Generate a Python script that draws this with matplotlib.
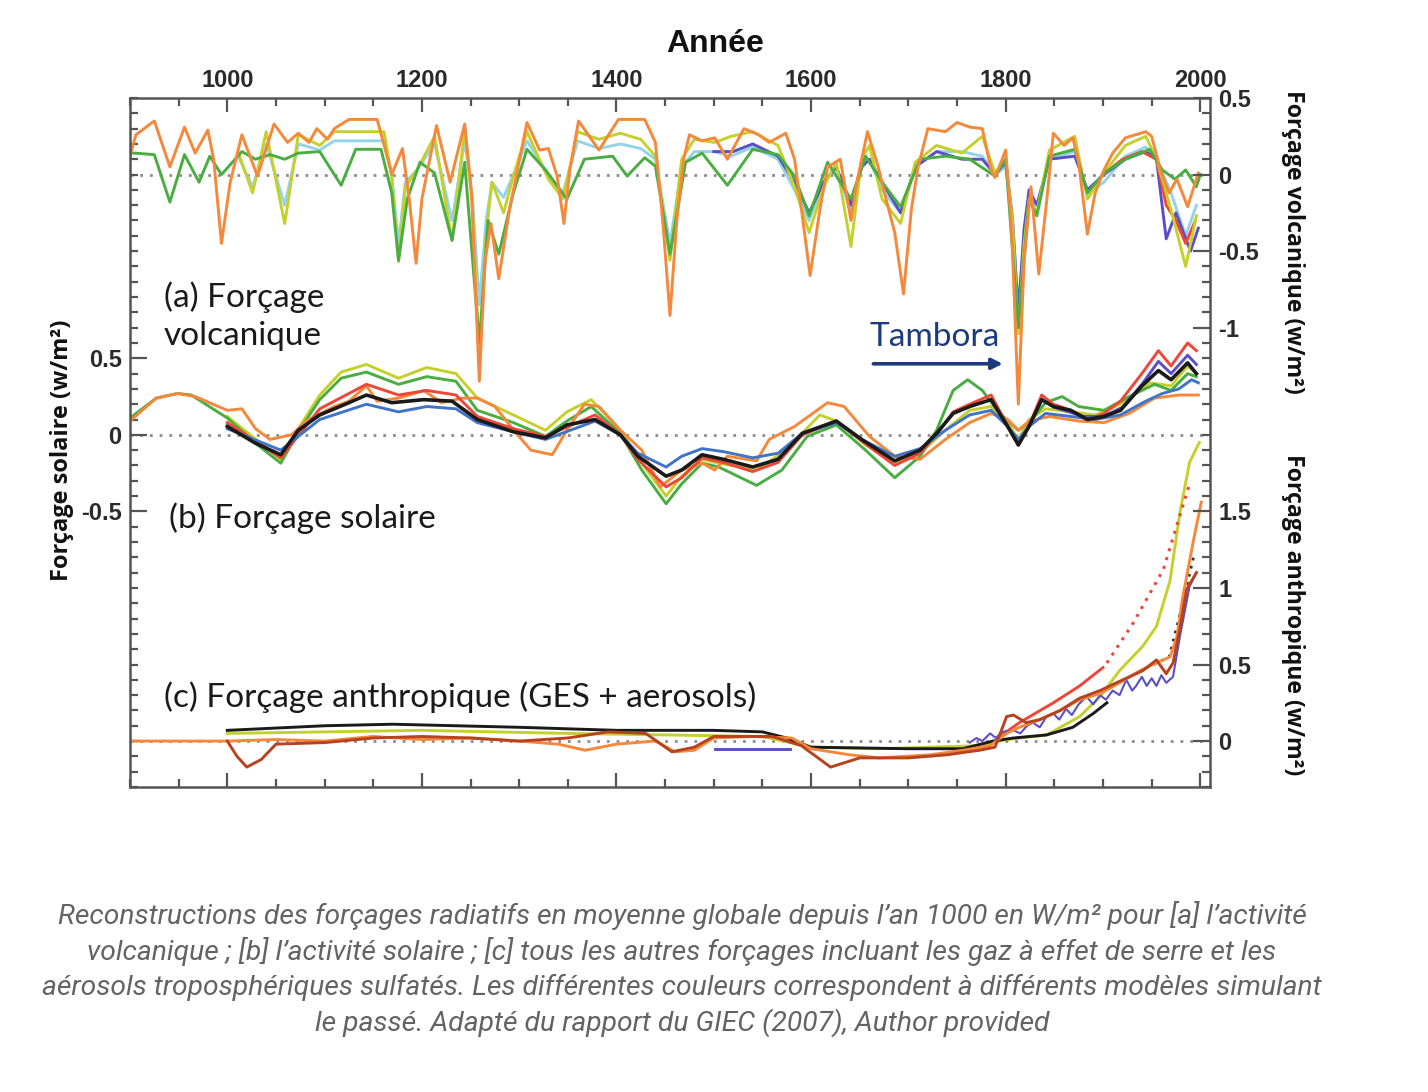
import numpy as np
import matplotlib
matplotlib.use('Agg')
import matplotlib.pyplot as plt
from matplotlib.ticker import MultipleLocator, FixedLocator
from matplotlib.font_manager import FontProperties

# ---------------- DATA (W/m2) ----------------
# (a) Volcanic forcing
V_ORANGE_YR = [900, 906, 925, 941, 956, 967, 980, 986, 994, 1003, 1015, 1031, 1048, 1062, 1073, 1084, 1092, 1103, 1110, 1125,
               1154, 1165, 1169, 1180, 1187, 1194, 1200, 1215, 1229, 1244, 1251, 1259, 1265, 1271, 1279, 1290, 1308, 1321, 1330, 1339,
               1346, 1352, 1361, 1382, 1402, 1429, 1440, 1448, 1455, 1462, 1469, 1475, 1488, 1501, 1514, 1531, 1546, 1557, 1574, 1583,
               1591, 1599, 1609, 1617, 1630, 1641, 1647, 1658, 1669, 1677, 1686, 1695, 1703, 1710, 1720, 1738, 1750, 1763, 1776, 1785,
               1789, 1800, 1806, 1813, 1819, 1826, 1834, 1843, 1849, 1860, 1869, 1875, 1884, 1892, 1901, 1910, 1923, 1944, 1950, 1959,
               1968, 1976, 1987, 1998]
V_ORANGE = [0.12, 0.26, 0.35, 0.05, 0.31, 0.14, 0.29, 0.10, -0.45, -0.05, 0.26, -0.01, 0.33, 0.21, 0.27, 0.21, 0.30, 0.23, 0.30, 0.36,
            0.36, 0.10, 0.00, 0.17, -0.16, -0.58, -0.16, 0.32, -0.05, 0.33, -0.12, -1.35, -0.56, -0.32, -0.68, -0.23, 0.34, 0.16, 0.17, -0.01,
            -0.32, 0.03, 0.35, 0.16, 0.36, 0.36, 0.21, -0.34, -0.92, -0.30, 0.10, 0.26, 0.22, 0.24, 0.10, 0.30, 0.26, 0.21, 0.27, 0.10,
            -0.27, -0.66, -0.23, 0.05, 0.10, -0.30, -0.05, 0.28, 0.05, -0.16, -0.38, -0.78, -0.23, 0.05, 0.30, 0.28, 0.34, 0.31, 0.30, 0.03,
            -0.02, 0.16, -0.34, -1.50, -0.56, -0.08, -0.65, -0.12, 0.27, 0.19, 0.24, 0.08, -0.39, -0.12, 0.03, 0.14, 0.24, 0.28, 0.25, 0.03,
            -0.12, -0.03, -0.21, 0.01]

V_YG_YR = [1011, 1026, 1040, 1059, 1073, 1095, 1110, 1161, 1169, 1176, 1183, 1195, 1213, 1231, 1244, 1252, 1259, 1266, 1272, 1284,
           1294, 1308, 1330, 1345, 1360, 1382, 1404, 1425, 1440, 1455, 1467, 1480, 1501, 1518, 1540, 1566, 1583, 1598, 1613, 1626,
           1641, 1652, 1660, 1673, 1692, 1707, 1729, 1755, 1776, 1789, 1800, 1807, 1813, 1819, 1824, 1832, 1845, 1871, 1884, 1901,
           1923, 1944, 1955, 1970, 1985, 1996]
V_YG = [0.15, -0.12, 0.28, -0.32, 0.26, 0.19, 0.28, 0.28, -0.01, -0.57, -0.08, 0.03, 0.25, -0.43, 0.30, -0.20, -1.22, -0.40, -0.05, -0.25,
        -0.01, 0.28, -0.03, -0.16, 0.28, 0.23, 0.27, 0.23, 0.12, -0.56, 0.10, 0.23, 0.21, 0.25, 0.28, 0.19, -0.08, -0.38, -0.08, 0.08,
        -0.47, 0.10, 0.19, -0.16, -0.32, 0.08, 0.19, 0.14, 0.25, 0.01, 0.10, -0.30, -1.04, -0.45, -0.16, -0.25, 0.16, 0.25, -0.16, 0.01,
        0.19, 0.25, 0.10, -0.23, -0.60, -0.27]
V_LBLUE = [0.12, -0.08, 0.20, -0.20, 0.20, 0.16, 0.22, 0.22, 0.00, -0.45, -0.05, 0.03, 0.20, -0.30, 0.22, -0.15, -0.85, -0.30, -0.05, -0.15,
           0.00, 0.22, 0.00, -0.12, 0.22, 0.17, 0.20, 0.17, 0.10, -0.45, 0.05, 0.15, 0.15, 0.12, 0.18, 0.10, -0.10, -0.30, -0.05, 0.05,
           -0.25, 0.05, 0.10, -0.10, -0.25, 0.05, 0.15, 0.15, 0.12, 0.00, 0.05, -0.25, -0.95, -0.40, -0.15, -0.20, 0.10, 0.15, -0.12, -0.05,
           0.12, 0.18, 0.10, -0.12, -0.40, -0.20]

V_GREEN_YR = [900, 905, 925, 941, 956, 971, 982, 994, 1015, 1029, 1044, 1059, 1073, 1095, 1117, 1132, 1158, 1169, 1176, 1185,
              1198, 1213, 1231, 1244, 1259, 1268, 1279, 1294, 1308, 1327, 1349, 1367, 1396, 1411, 1429, 1440, 1455, 1471, 1488, 1514,
              1540, 1566, 1583, 1598, 1617, 1641, 1656, 1673, 1692, 1712, 1738, 1763, 1789, 1800, 1813, 1824, 1832, 1845, 1871, 1884,
              1901, 1923, 1948, 1961, 1974, 1985, 1996, 2000]
V_GREEN = [0.14, 0.14, 0.13, -0.18, 0.13, -0.05, 0.12, 0.00, 0.15, 0.10, 0.13, 0.10, 0.14, 0.15, -0.07, 0.165, 0.165, -0.12, -0.56, -0.16,
           0.08, 0.01, -0.43, 0.08, -1.10, -0.30, -0.52, -0.12, 0.165, 0.03, -0.16, 0.10, 0.12, -0.01, 0.11, 0.055, -0.52, 0.08, 0.14, -0.07,
           0.165, 0.13, -0.01, -0.27, 0.08, -0.16, 0.12, -0.05, -0.21, 0.10, 0.12, 0.10, -0.01, 0.10, -1.00, -0.16, -0.27, 0.12, 0.165, -0.12,
           0.01, 0.10, 0.165, 0.03, -0.03, 0.03, -0.08, 0.00]

V_PURPLE_YR = [1500, 1520, 1540, 1566, 1583, 1598, 1613, 1626, 1641, 1652, 1660, 1673, 1692, 1707, 1729, 1755, 1776, 1789, 1800, 1807,
               1813, 1819, 1824, 1832, 1845, 1871, 1884, 1901, 1923, 1944, 1955, 1965, 1975, 1990, 1998]
V_PURPLE = [0.15, 0.15, 0.20, 0.12, -0.05, -0.25, -0.05, 0.05, -0.20, 0.05, 0.10, -0.05, -0.25, 0.05, 0.15, 0.10, 0.10, 0.00, 0.08, -0.30,
            -0.90, -0.35, -0.10, -0.20, 0.10, 0.12, -0.10, 0.00, 0.10, 0.15, 0.10, -0.42, -0.25, -0.50, -0.35]
V_RED_YR = [1900, 1920, 1940, 1955, 1965, 1975, 1985, 1995]
V_RED = [0.00, 0.10, 0.15, 0.10, -0.20, -0.30, -0.45, -0.30]

# (b) Solar forcing
S_BLACK_YR = [1000, 1029, 1055, 1073, 1095, 1125, 1143, 1169, 1202, 1231, 1257, 1294, 1327, 1349, 1378, 1404, 1422, 1451, 1467, 1488,
              1510, 1540, 1566, 1591, 1626, 1652, 1686, 1712, 1729, 1746, 1763, 1785, 1802, 1813, 1824, 1837, 1849, 1867, 1884, 1901,
              1918, 1940, 1957, 1970, 1987, 1996]
S_BLACK = [0.055, -0.055, -0.13, 0.03, 0.13, 0.21, 0.26, 0.21, 0.23, 0.22, 0.10, 0.02, -0.02, 0.065, 0.10, 0.00, -0.14, -0.27, -0.23, -0.13,
           -0.16, -0.21, -0.16, 0.01, 0.09, -0.03, -0.17, -0.10, 0.01, 0.14, 0.185, 0.23, 0.055, -0.065, 0.055, 0.23, 0.185, 0.16, 0.10, 0.12,
           0.16, 0.32, 0.42, 0.36, 0.47, 0.40]
S_GREEN_YR = [900, 927, 949, 963, 1000, 1029, 1055, 1073, 1095, 1117, 1143, 1176, 1205, 1235, 1257, 1294, 1327, 1349, 1374, 1404,
              1426, 1451, 1467, 1488, 1505, 1544, 1570, 1596, 1626, 1656, 1686, 1712, 1729, 1746, 1761, 1776, 1794, 1813, 1824, 1841,
              1858, 1875, 1901, 1927, 1953, 1970, 1987, 1996]
S_GREEN = [0.11, 0.24, 0.27, 0.26, 0.11, -0.055, -0.185, 0.02, 0.23, 0.37, 0.41, 0.33, 0.38, 0.35, 0.16, 0.08, -0.01, 0.09, 0.185, 0.01,
           -0.23, -0.45, -0.32, -0.185, -0.21, -0.33, -0.23, -0.01, 0.065, -0.10, -0.28, -0.14, 0.03, 0.29, 0.36, 0.29, 0.14, 0.03, 0.08, 0.21,
           0.25, 0.185, 0.16, 0.25, 0.33, 0.29, 0.40, 0.38]
S_YG_YR = [1000, 1055, 1073, 1095, 1117, 1143, 1176, 1205, 1235, 1257, 1294, 1327, 1349, 1374, 1404, 1426, 1451, 1467, 1488, 1505,
           1544, 1574, 1609, 1626, 1656, 1686, 1712, 1738, 1763, 1785, 1802, 1813, 1824, 1841, 1867, 1892, 1918, 1948, 1970, 1987, 1996]
S_YG = [0.12, -0.16, 0.04, 0.26, 0.41, 0.46, 0.37, 0.44, 0.40, 0.24, 0.13, 0.03, 0.15, 0.23, 0.03, -0.185, -0.40, -0.27, -0.16, -0.185,
        -0.23, -0.10, 0.13, 0.09, -0.065, -0.185, -0.12, 0.03, 0.16, 0.185, 0.08, -0.03, 0.10, 0.17, 0.15, 0.13, 0.20, 0.34, 0.32, 0.45, 0.40]
S_RED_YR = [1000, 1055, 1095, 1143, 1176, 1205, 1235, 1257, 1294, 1327, 1378, 1404, 1422, 1451, 1467, 1488, 1510, 1540, 1566, 1591,
            1626, 1652, 1686, 1712, 1729, 1746, 1763, 1785, 1802, 1813, 1824, 1837, 1849, 1867, 1884, 1901, 1918, 1940, 1957, 1970,
            1987, 1996]
S_RED = [0.08, -0.15, 0.17, 0.33, 0.26, 0.29, 0.26, 0.12, 0.04, -0.01, 0.13, 0.00, -0.16, -0.34, -0.28, -0.15, -0.18, -0.24, -0.18, 0.00,
         0.09, -0.04, -0.20, -0.12, 0.00, 0.15, 0.20, 0.26, 0.06, -0.07, 0.06, 0.26, 0.20, 0.16, 0.10, 0.14, 0.22, 0.40, 0.55, 0.45,
         0.60, 0.55]
S_BLUE_YR = [1000, 1055, 1095, 1143, 1176, 1205, 1235, 1257, 1294, 1327, 1378, 1404, 1422, 1451, 1467, 1488, 1510, 1540, 1566, 1591,
             1626, 1652, 1686, 1712, 1738, 1763, 1785, 1802, 1813, 1824, 1841, 1867, 1892, 1918, 1944, 1961, 1978, 1991, 1998]
S_BLUE = [0.04, -0.10, 0.10, 0.20, 0.15, 0.185, 0.17, 0.08, 0.02, -0.03, 0.09, 0.00, -0.12, -0.21, -0.14, -0.09, -0.11, -0.15, -0.12, 0.01,
          0.08, -0.03, -0.14, -0.09, 0.03, 0.13, 0.16, 0.055, -0.03, 0.055, 0.14, 0.12, 0.10, 0.13, 0.22, 0.27, 0.30, 0.36, 0.34]
S_ORANGE_YR = [900, 927, 949, 967, 1000, 1015, 1029, 1044, 1066, 1081, 1110, 1125, 1143, 1154, 1176, 1202, 1220, 1242, 1257, 1275,
               1297, 1312, 1334, 1349, 1367, 1382, 1404, 1426, 1445, 1467, 1488, 1501, 1514, 1544, 1557, 1583, 1617, 1634, 1660, 1686,
               1712, 1738, 1763, 1785, 1802, 1813, 1824, 1845, 1875, 1901, 1927, 1953, 1978, 1998]
S_ORANGE = [0.09, 0.24, 0.27, 0.25, 0.16, 0.17, 0.04, -0.03, 0.00, 0.09, 0.185, 0.22, 0.32, 0.22, 0.24, 0.29, 0.21, 0.24, 0.24, 0.185,
            0.01, -0.10, -0.13, 0.03, 0.20, 0.185, 0.03, -0.10, -0.34, -0.23, -0.185, -0.23, -0.14, -0.17, -0.03, 0.055, 0.21, 0.185, -0.01, -0.14,
            -0.16, -0.03, 0.08, 0.14, 0.10, 0.03, 0.09, 0.12, 0.09, 0.08, 0.14, 0.24, 0.26, 0.26]
S_PURPLE_YR = [1850, 1880, 1900, 1920, 1940, 1957, 1970, 1987, 1996]
S_PURPLE = [0.18, 0.12, 0.12, 0.18, 0.33, 0.48, 0.40, 0.52, 0.46]

# (c) Anthropogenic forcing
A_ORANGE_YR = [900, 1000, 1050, 1100, 1150, 1200, 1250, 1300, 1340, 1368, 1400, 1440, 1460, 1480, 1500, 1540, 1580, 1600, 1640, 1670,
               1722, 1756, 1784, 1801, 1814, 1835, 1856, 1876, 1897, 1917, 1938, 1955, 1969, 1976, 1982, 1993, 2001]
A_ORANGE = [0.00, 0.00, 0.01, 0.00, 0.03, 0.01, 0.02, 0.00, -0.02, -0.06, -0.02, 0.00, -0.07, -0.06, 0.02, 0.03, 0.02, -0.05, -0.09, -0.11,
            -0.09, -0.06, -0.03, 0.05, 0.09, 0.14, 0.20, 0.27, 0.31, 0.38, 0.46, 0.51, 0.55, 0.68, 0.94, 1.31, 1.56]
A_BROWN_YR = [1000, 1010, 1020, 1035, 1050, 1100, 1150, 1200, 1250, 1300, 1350, 1391, 1430, 1457, 1480, 1500, 1560, 1590, 1620, 1650,
              1700, 1739, 1773, 1789, 1801, 1808, 1821, 1835, 1856, 1876, 1897, 1917, 1941, 1955, 1965, 1972, 1979, 1986, 1996]
A_BROWN = [0.00, -0.10, -0.17, -0.12, -0.02, -0.01, 0.02, 0.03, 0.02, 0.00, 0.02, 0.06, 0.05, -0.07, -0.04, 0.03, 0.03, -0.03, -0.17, -0.11,
           -0.11, -0.09, -0.06, -0.04, 0.16, 0.17, 0.12, 0.14, 0.20, 0.28, 0.33, 0.39, 0.46, 0.53, 0.44, 0.51, 0.73, 0.99, 1.10]
A_BLACK_YR = [1000, 1100, 1170, 1300, 1400, 1500, 1550, 1575, 1600, 1700, 1756, 1787, 1808, 1842, 1869, 1890, 1904]
A_BLACK = [0.07, 0.10, 0.11, 0.09, 0.07, 0.07, 0.06, 0.02, -0.04, -0.05, -0.05, 0.00, 0.02, 0.04, 0.09, 0.18, 0.25]
A_BLACK_DOT_YR = [1952, 1968, 1980, 1993]
A_BLACK_DOT = [0.50, 0.55, 0.85, 1.20]
A_YG_YR = [1000, 1100, 1200, 1350, 1550, 1600, 1670, 1773, 1801, 1842, 1876, 1897, 1917, 1941, 1955, 1969, 1979, 1989, 1999]
A_YG = [0.05, 0.06, 0.07, 0.05, 0.03, -0.04, -0.05, -0.03, 0.01, 0.04, 0.16, 0.29, 0.46, 0.62, 0.75, 1.05, 1.49, 1.82, 1.95]
A_RED_YR = [1794, 1814, 1849, 1876, 1900]
A_RED = [0.03, 0.12, 0.25, 0.36, 0.48]
A_RED_DOT_YR = [1904, 1931, 1962, 1989]
A_RED_DOT = [0.51, 0.77, 1.12, 1.68]
A_PURPLE1_YR = [1501, 1578]
A_PURPLE1 = [-0.05, -0.05]
A_PURPLE_YR = [1763, 1770, 1776, 1784, 1790, 1796, 1808, 1815, 1822, 1828, 1835, 1842, 1849, 1855, 1862, 1868, 1875, 1883, 1890, 1897,
               1903, 1910, 1917, 1924, 1930, 1934, 1940, 1945, 1950, 1955, 1960, 1965, 1972, 1979, 1989, 1996]
A_PURPLE = [-0.01, 0.02, 0.00, 0.05, 0.02, 0.06, 0.07, 0.05, 0.10, 0.12, 0.09, 0.16, 0.18, 0.14, 0.21, 0.17, 0.24, 0.29, 0.24, 0.30,
            0.27, 0.33, 0.30, 0.40, 0.33, 0.36, 0.42, 0.36, 0.41, 0.36, 0.43, 0.38, 0.42, 0.68, 1.01, 1.10]

# tick labels
YEAR_TICKS = [1000, 1200, 1400, 1600, 1800, 2000]
VOLC_TICKS = [0.5, 0, -0.5, -1]
SOL_TICKS = [0.5, 0, -0.5]
ANTH_TICKS = [1.5, 1, 0.5, 0]

CAPTION = ["Reconstructions des forçages radiatifs en moyenne globale depuis l\u2019an 1000 en W/m\u00b2 pour [a] l\u2019activité",
           "volcanique ; [b] l\u2019activité solaire ; [c] tous les autres forçages incluant les gaz à effet de serre et les",
           "aérosols troposphériques sulfatés. Les différentes couleurs correspondent à différents modèles simulant",
           "le passé. Adapté du rapport du GIEC (2007), Author provided"]

# ---------------- STYLE ----------------
OFF_V, OFF_S, OFF_A = 3.7, 2.0, 0.0
C_OR = '#f5883a'; C_YG = '#c6d02c'; C_LB = '#94d3ea'; C_GR = '#4aad42'
C_PU = '#5a4fc4'; C_RD = '#ee4638'; C_BK = '#1a1a1a'; C_BL = '#3f74c8'; C_BR = '#b8421e'
LW = 2.1

W, H = 1428, 1092
fig = plt.figure(figsize=(W / 100, H / 100), dpi=100)
fig.patch.set_facecolor('white')
ax = fig.add_axes([130 / W, 1 - 787 / H, (1210 - 130) / W, (787 - 98) / H])
ax.set_xlim(900, 2010)
ax.set_ylim(-0.30, 4.20)

def P(x, y, off, color, lw=LW, **kw):
    ax.plot(x, np.asarray(y) + off, color=color, lw=lw, solid_joinstyle='round', **kw)

# zero lines
for off in (OFF_V, OFF_S, OFF_A):
    ax.axhline(off, color='#8c8c8c', lw=2.0, ls=(0, (1, 2.5)), zorder=1)

# volcanic
P(V_YG_YR, V_LBLUE, OFF_V, C_LB)
P(V_PURPLE_YR, V_PURPLE, OFF_V, C_PU)
P(V_RED_YR, V_RED, OFF_V, C_RD)
P(V_YG_YR, V_YG, OFF_V, C_YG)
P(V_GREEN_YR, V_GREEN, OFF_V, C_GR)
P(V_ORANGE_YR, V_ORANGE, OFF_V, C_OR)

# solar
P(S_YG_YR, S_YG, OFF_S, C_YG)
P(S_GREEN_YR, S_GREEN, OFF_S, C_GR)
P(S_ORANGE_YR, S_ORANGE, OFF_S, C_OR)
P(S_RED_YR, S_RED, OFF_S, C_RD)
P(S_BLUE_YR, S_BLUE, OFF_S, C_BL)
P(S_PURPLE_YR, S_PURPLE, OFF_S, C_PU)
P(S_BLACK_YR, S_BLACK, OFF_S, C_BK, lw=2.6)

# anthropogenic
P(A_PURPLE1_YR, A_PURPLE1, OFF_A, C_PU)
P(A_YG_YR, A_YG, OFF_A, C_YG)
P(A_BLACK_YR, A_BLACK, OFF_A, C_BK)
P(A_BLACK_DOT_YR, A_BLACK_DOT, OFF_A, '#333333', lw=2.0, ls=(0, (1, 2)))
P(A_RED_YR, A_RED, OFF_A, C_RD)
P(A_RED_DOT_YR, A_RED_DOT, OFF_A, C_RD, lw=2.2, ls=(0, (1, 2)))
P(A_PURPLE_YR, A_PURPLE, OFF_A, C_PU, lw=1.5)
P(A_ORANGE_YR, A_ORANGE, OFF_A, C_OR)
P(A_BROWN_YR, A_BROWN, OFF_A, C_BR)

# ---------------- AXES / TICKS ----------------
for s in ax.spines.values():
    s.set_color('#555555'); s.set_linewidth(1.8)

TICK_FP = FontProperties(family='Liberation Sans', weight='bold', size=17)
ax.xaxis.set_major_locator(FixedLocator(YEAR_TICKS))
ax.xaxis.set_minor_locator(MultipleLocator(50))
ax.tick_params(axis='x', which='both', direction='in', top=True, bottom=True,
               labeltop=True, labelbottom=False, color='#555555', width=1.6, pad=4)
ax.tick_params(axis='x', which='major', length=10)
ax.tick_params(axis='x', which='minor', length=6)
ax.set_xticklabels([str(t) for t in YEAR_TICKS])
for lab in ax.get_xticklabels():
    lab.set_fontproperties(TICK_FP); lab.set_color('#2a2a2a')

ax.yaxis.set_major_locator(FixedLocator([t + OFF_S for t in SOL_TICKS]))
ax.yaxis.set_minor_locator(MultipleLocator(0.1))
ax.set_yticklabels([('%g' % t) for t in SOL_TICKS])
ax.tick_params(axis='y', which='both', direction='in', left=True, right=False, color='#555555', width=1.6, pad=6)
ax.tick_params(axis='y', which='major', length=12)
ax.tick_params(axis='y', which='minor', length=6)
for lab in ax.get_yticklabels():
    lab.set_fontproperties(TICK_FP); lab.set_color('#2a2a2a')

ax2 = ax.twinx()
ax2.set_ylim(ax.get_ylim())
rt = [t + OFF_V for t in VOLC_TICKS] + [t + OFF_A for t in ANTH_TICKS]
rl = [('%g' % t) for t in VOLC_TICKS] + [('%g' % t) for t in ANTH_TICKS]
ax2.yaxis.set_major_locator(FixedLocator(rt))
ax2.yaxis.set_minor_locator(MultipleLocator(0.1))
ax2.set_yticklabels(rl)
ax2.tick_params(axis='y', which='both', direction='in', right=True, color='#555555', width=1.6, pad=6)
ax2.tick_params(axis='y', which='major', length=12)
ax2.tick_params(axis='y', which='minor', length=6)
for lab in ax2.get_yticklabels():
    lab.set_fontproperties(TICK_FP); lab.set_color('#2a2a2a')
for s in ax2.spines.values():
    s.set_visible(False)

# ---------------- TEXT ----------------
panel_font = dict(family='Lato', size=24, color='#1a1a1a')
ax.text(935, 2.775, '(a) Forçage\nvolcanique', ha='left', va='center', linespacing=1.32, **panel_font)
ax.text(940, 1.457, '(b) Forçage solaire', ha='left', va='center', **panel_font)
ax.text(935, 0.288, '(c) Forçage anthropique (GES + aerosols)', ha='left', va='center', **panel_font)

ax.text(1727, 2.64, 'Tambora', ha='center', va='center', family='Lato', size=24, color='#1d3b7a')
ax.annotate('', xy=(1797, 2.464), xytext=(1664, 2.464),
            arrowprops=dict(arrowstyle='-|>', color='#1d3b7a', lw=2.6, mutation_scale=16, shrinkA=0, shrinkB=0))

fig.text(715 / W, 1 - 44 / H, 'Année', ha='center', va='center', family='Liberation Sans', weight='bold', size=23, color='#111111')
fig.text(62 / W, 1 - 450 / H, 'Forçage solaire (w/m\u00b2)', rotation=90, ha='center', va='center',
         family='Open Sans', weight='bold', size=17, color='#111111')
fig.text(1293 / W, 1 - 242 / H, 'Forçage volcanique (w/m\u00b2)', rotation=270, ha='center', va='center',
         family='Open Sans', weight='bold', size=16.7, color='#111111')
fig.text(1293 / W, 1 - 615 / H, 'Forçage anthropique (w/m\u00b2)', rotation=270, ha='center', va='center',
         family='Open Sans', weight='bold', size=16.7, color='#111111')

for i, line in enumerate(CAPTION):
    fig.text(682 / W, 1 - (915 + 36 * i) / H, line, ha='center', va='center',
             family='Roboto', style='italic', size=20.3, color='#636363')

fig.savefig('out.png', dpi=100, facecolor='white')
